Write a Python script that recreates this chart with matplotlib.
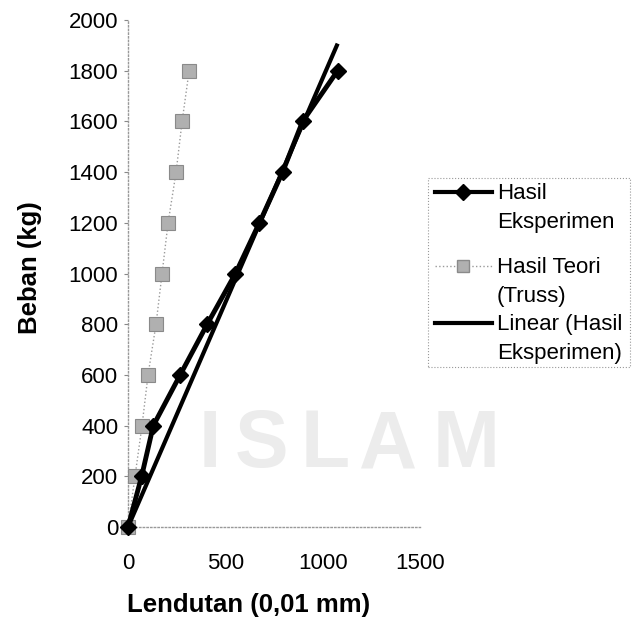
import numpy as np
import matplotlib.pyplot as plt
from matplotlib.lines import Line2D

plt.rcParams['font.family'] = ['Liberation Sans', 'DejaVu Sans']

# load (kg) and deflection (0,01 mm)
beban = [0, 200, 400, 600, 800, 1000, 1200, 1400, 1600, 1800]
lendutan_eksperimen = [0, 70, 130, 268, 407, 552, 675, 794, 897, 1077]
lendutan_teori = [0, 36, 72, 103, 144, 175, 206, 247, 278, 314]

legend_labels = ['Hasil\nEksperimen', 'Hasil Teori\n(Truss)', 'Linear (Hasil\nEksperimen)']
x_ticks = [0, 500, 1000, 1500]
y_ticks = list(range(0, 2001, 200))

W, H = 633, 624
fig = plt.figure(figsize=(W / 100, H / 100), dpi=100)


def fx(px):
    return px / W


def fy(py):
    return 1 - py / H


# faint watermark of the scanned page, behind everything
for ch, px in zip('ISLAM', [210, 262, 325, 388, 466]):
    fig.text(fx(px), fy(446), ch, fontsize=58, fontweight='bold', color='#ececec',
             ha='center', va='center', zorder=0)

ax = fig.add_axes([fx(128), fy(527), fx(420) - fx(128), fy(20) - fy(527)])
ax.patch.set_alpha(0)

# trend line forced through the origin, like excel's "set intercept = 0"
x = np.array(lendutan_eksperimen, dtype=float)
y = np.array(beban, dtype=float)
slope = (x * y).sum() / (x * x).sum()
xs = np.array([0, x.max()])

ax.plot(lendutan_teori, beban, color='#9a9a9a', lw=1, ls=':', marker='s', ms=10,
        mfc='#b0b0b0', mec='#8a8a8a', mew=0.8, clip_on=False, zorder=3)
ax.plot(xs, slope * xs, color='black', lw=3, solid_capstyle='butt', clip_on=False, zorder=4)
ax.plot(lendutan_eksperimen, beban, color='black', lw=3.5, marker='D', ms=8.5,
        mfc='black', mec='black', clip_on=False, zorder=5)

ax.set_xlim(0, 1500)
ax.set_ylim(0, 2000)
ax.set_xticks(x_ticks)
ax.set_yticks(y_ticks)
ax.tick_params(axis='x', length=0, pad=19, labelsize=16)
ax.tick_params(axis='y', length=3, width=0.8, color='#888888', pad=4, labelsize=16)
for side in ('top', 'right'):
    ax.spines[side].set_visible(False)
for side in ('left', 'bottom'):
    ax.spines[side].set_linestyle(':')
    ax.spines[side].set_color('#999999')
    ax.spines[side].set_linewidth(1)

fig.text(fx(249), fy(605), 'Lendutan (0,01 mm)', fontsize=18.5, fontweight='bold',
         ha='center', va='center')
fig.text(fx(30), fy(268), 'Beban (kg)', fontsize=18.5, fontweight='bold',
         ha='center', va='center', rotation=90)

# legend drawn by hand so the handles sit on the first text line
box = plt.Rectangle((fx(428), fy(367)), fx(630) - fx(428), fy(178) - fy(367),
                    transform=fig.transFigure, fill=False, ec='#999999', lw=0.8, ls=':')
fig.add_artist(box)
rows = [192, 266, 323]
styles = [dict(color='black', lw=3, marker='D', ms=8.5, mfc='black'),
          dict(color='#9a9a9a', lw=1, ls=':', marker='s', ms=9, mfc='#b0b0b0', mec='#8a8a8a'),
          dict(color='black', lw=3)]
for row, label, st in zip(rows, legend_labels, styles):
    fig.add_artist(Line2D([fx(435), fx(492)], [fy(row), fy(row)], transform=fig.transFigure,
                          markevery=[], **st))
    if 'marker' in st:
        fig.add_artist(Line2D([fx(463)], [fy(row)], transform=fig.transFigure, **st))
    fig.text(fx(497), fy(row - 9), label, fontsize=16, ha='left', va='top', linespacing=1.5)

fig.savefig('out.png', dpi=100)
